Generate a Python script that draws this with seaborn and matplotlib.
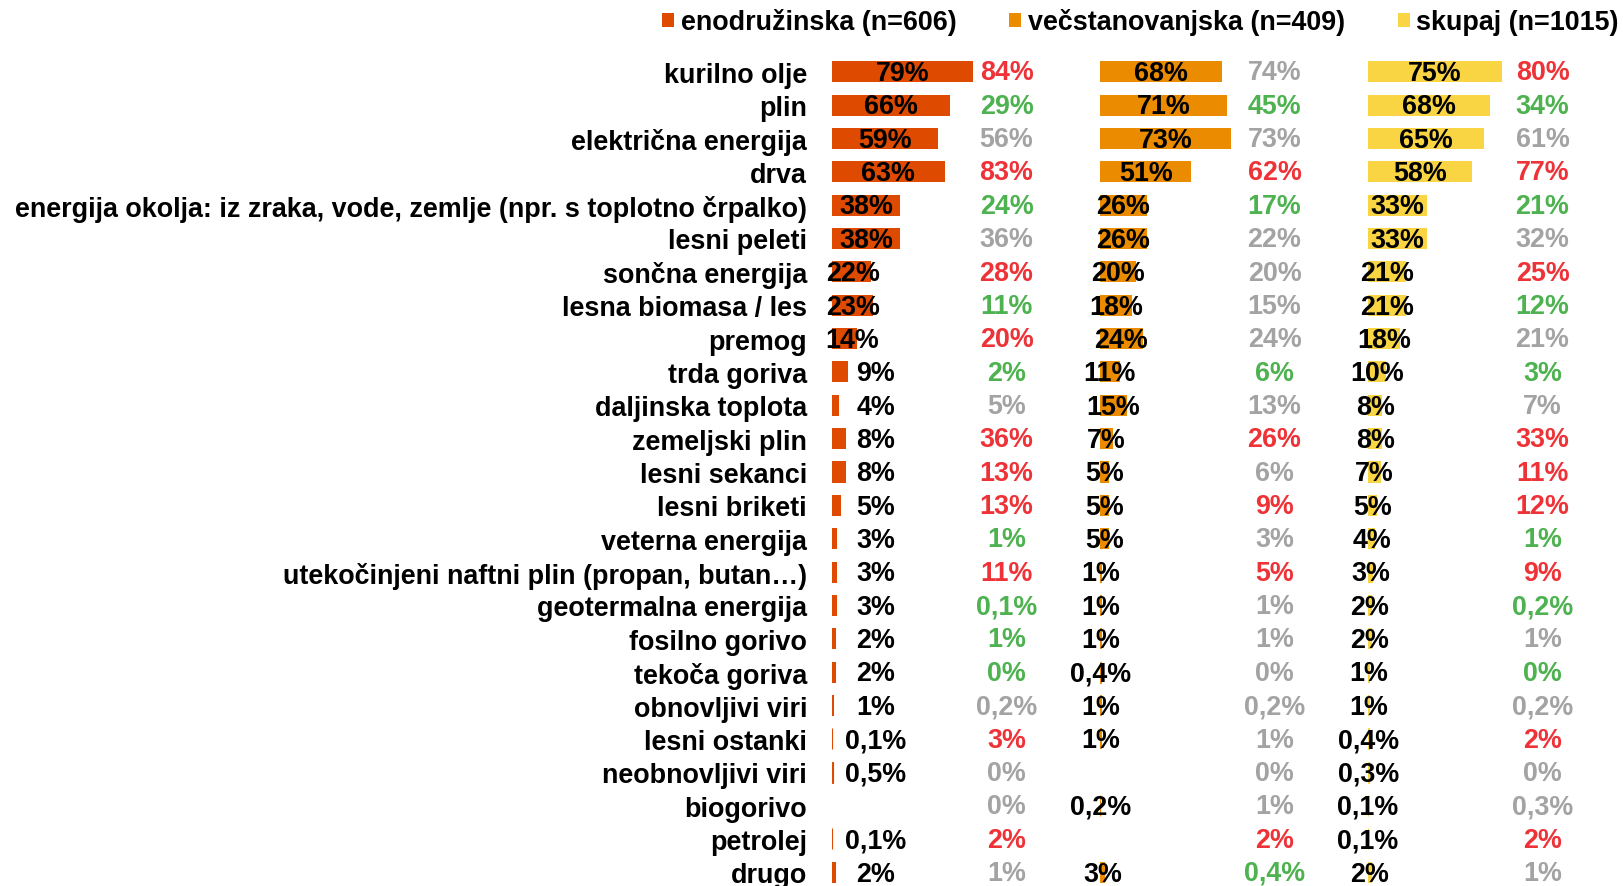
import numpy as np
import pandas as pd
import matplotlib
matplotlib.use("Agg")
import matplotlib.pyplot as plt
import seaborn as sns
from matplotlib.patches import Patch

# Data
categories = [
    "kurilno olje", "plin", "električna energija", "drva",
    "energija okolja: iz zraka, vode, zemlje (npr. s toplotno črpalko)",
    "lesni peleti", "sončna energija", "lesna biomasa / les", "premog",
    "trda goriva", "daljinska toplota", "zemeljski plin", "lesni sekanci",
    "lesni briketi", "veterna energija",
    "utekočinjeni naftni plin (propan, butan…)", "geotermalna energija",
    "fosilno gorivo", "tekoča goriva", "obnovljivi viri", "lesni ostanki",
    "neobnovljivi viri", "biogorivo", "petrolej", "drugo",
]

eno = [79, 66, 59, 63, 38, 38, 22, 23, 14, 9, 4, 8, 8, 5, 3, 3, 3, 2, 2, 1,
       0.1, 0.5, np.nan, 0.1, 2]
eno_cmp = [84, 29, 56, 83, 24, 36, 28, 11, 20, 2, 5, 36, 13, 13, 1, 11, 0.1,
           1, 0, 0.2, 3, 0, 0, 2, 1]
eno_sig = ["+", "-", "=", "+", "-", "=", "+", "-", "+", "-", "=", "+", "+",
           "+", "-", "+", "-", "-", "-", "=", "+", "=", "=", "+", "="]

vec = [68, 71, 73, 51, 26, 26, 20, 18, 24, 11, 15, 7, 5, 5, 5, 1, 1, 1, 0.4,
       1, 1, np.nan, 0.2, np.nan, 3]
vec_cmp = [74, 45, 73, 62, 17, 22, 20, 15, 24, 6, 13, 26, 6, 9, 3, 5, 1, 1,
           0, 0.2, 1, 0, 1, 2, 0.4]
vec_sig = ["=", "-", "=", "+", "-", "=", "=", "=", "=", "-", "=", "+", "=",
           "+", "=", "+", "=", "=", "=", "=", "=", "=", "=", "+", "-"]

sku = [75, 68, 65, 58, 33, 33, 21, 21, 18, 10, 8, 8, 7, 5, 4, 3, 2, 2, 1, 1,
       0.4, 0.3, 0.1, 0.1, 2]
sku_cmp = [80, 34, 61, 77, 21, 32, 25, 12, 21, 3, 7, 33, 11, 12, 1, 9, 0.2, 1,
           0, 0.2, 2, 0, 0.3, 2, 1]
sku_sig = ["+", "-", "=", "+", "-", "=", "+", "-", "=", "-", "=", "+", "+",
           "+", "-", "+", "-", "=", "-", "=", "+", "=", "=", "+", "="]

series_names = ["enodružinska (n=606)", "večstanovanjska (n=409)", "skupaj (n=1015)"]
colors = ["#DD4A00", "#EB8C00", "#F9D443"]
sig_colors = {"+": "#EE3338", "-": "#4DB24F", "=": "#A3A3A3"}

FONT = "Liberation Sans"
FS = 19.4


def fmt(v):
    if v == 0:
        return "0%"
    if v < 1:
        return f"{v:.1f}".replace(".", ",") + "%"
    return f"{v:.0f}%"


plt.rcParams["font.family"] = [FONT, "DejaVu Sans"]
plt.rcParams["font.weight"] = "bold"

fig = plt.figure(figsize=(16.23, 8.87), dpi=100)

W = 1623.0
H = 887.0
px_per_pct = 1.79
lefts = [832, 1100, 1368]
panels = [(eno, eno_cmp, eno_sig), (vec, vec_cmp, vec_sig), (sku, sku_cmp, sku_sig)]

ax_bottom = -3.0 / H
ax_height = (H - 56.0 + 3.0) / H

for i, ((vals, cmp_vals, sig), col, left) in enumerate(zip(panels, colors, lefts)):
    width_px = min(268.0, W - left)
    ax = fig.add_axes([left / W, ax_bottom, width_px / W, ax_height])
    df = pd.DataFrame({"cat": categories, "val": vals})
    sns.barplot(data=df, x="val", y="cat", order=categories, ax=ax,
                color=col, saturation=1, width=0.63, errorbar=None,
                orient="h", linewidth=0)
    # keep the tiniest bars visible as a thin stroke
    for p in ax.patches:
        if 0 < p.get_width() < 0.6:
            p.set_edgecolor(col)
            p.set_linewidth(0.8)
    ax.set_xlim(0, width_px / px_per_pct)
    ax.set_ylim(len(categories) - 0.5, -0.5)
    ax.set_xlabel("")
    ax.set_ylabel("")
    ax.set_xticks([])
    for s in ax.spines.values():
        s.set_visible(False)
    if i == 0:
        ax.tick_params(axis="y", length=0, pad=18)
        ax.set_yticks(range(len(categories)))
        ax.set_yticklabels(categories, fontsize=FS, fontweight="bold")
    else:
        ax.set_yticks([])

    for r, (v, cv, sg) in enumerate(zip(vals, cmp_vals, sig)):
        if not np.isnan(v):
            if i == 0 and v < 10:
                lx = 24.5
            elif i == 0:
                lx = max(v / 2, 11.5)
            else:
                lx = v / 2
            ax.text(lx, r + 0.04, fmt(v), ha="center", va="center", fontsize=FS,
                    fontweight="bold", color="black", clip_on=False)
        ax.text(97.5, r + 0.02, fmt(cv), ha="center", va="center", fontsize=FS,
                fontweight="bold", color=sig_colors[sg], clip_on=False)

handles = [Patch(facecolor=c, edgecolor="none") for c in colors]
fig.legend(handles, series_names, loc="center right",
           bbox_to_anchor=(1619 / W, 1 - 23 / H), ncol=3, frameon=False,
           prop={"family": FONT, "weight": "bold", "size": FS},
           handlelength=0.45, handleheight=0.45, handletextpad=0.25,
           columnspacing=1.95, borderpad=0, borderaxespad=0)

fig.savefig("out.png", dpi=100)
